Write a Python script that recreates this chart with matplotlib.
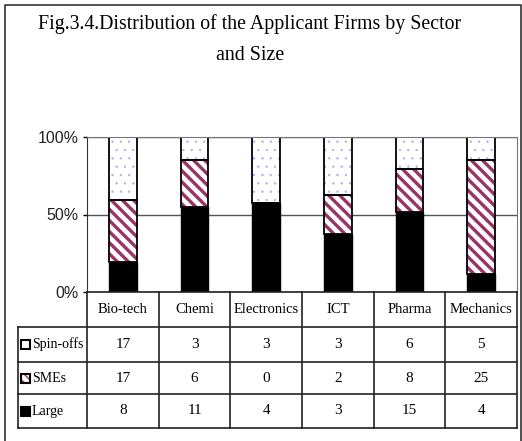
import matplotlib
matplotlib.use('Agg')
import matplotlib.pyplot as plt
import numpy as np

# data
sectors = ['Bio-tech', 'Chemi', 'Electronics', 'ICT', 'Pharma', 'Mechanics']
spin_offs = [17, 3, 3, 3, 6, 5]
smes = [17, 6, 0, 2, 8, 25]
large = [8, 11, 4, 3, 15, 4]
row_names = ['Spin-offs', 'SMEs', 'Large']
title = 'Fig.3.4.Distribution of the Applicant Firms by Sector\nand Size'

W, H = 522, 441
serif = ['Liberation Serif', 'DejaVu Serif']
sans = ['Liberation Sans', 'DejaVu Sans']
maroon = '#993366'
dotc = '#aaaaf2'

fig = plt.figure(figsize=(W / 100, H / 100), dpi=100)

# plot area in pixels
px_l, px_r, px_t, px_b = 87, 517, 137, 292
ax = fig.add_axes([px_l / W, (H - px_b) / H, (px_r - px_l) / W, (px_b - px_t) / H])

tot = np.array(spin_offs) + np.array(smes) + np.array(large)
p_large = np.array(large) / tot * 100
p_smes = np.array(smes) / tot * 100
p_spin = np.array(spin_offs) / tot * 100
x = np.arange(len(sectors))
bw = 0.39

ax.bar(x, p_large, bw, color='black', edgecolor='black', linewidth=1)
b2 = ax.bar(x, p_smes, bw, bottom=p_large, color='white', edgecolor=maroon,
            hatch='\\\\\\', linewidth=0)
for p in b2:
    if hasattr(p, 'set_hatch_linewidth'):
        p.set_hatch_linewidth(2.4)
b3 = ax.bar(x, p_spin, bw, bottom=p_large + p_smes, color='white', edgecolor=dotc,
            hatch='..', linewidth=0)
for p in b3:
    if hasattr(p, 'set_hatch_linewidth'):
        p.set_hatch_linewidth(0.4)
# outlines
ax.bar(x, p_smes, bw, bottom=p_large, fill=False, edgecolor='black', linewidth=1.3)
ax.bar(x, p_spin, bw, bottom=p_large + p_smes, fill=False, edgecolor='black', linewidth=1.3)

ax.set_xlim(-0.5, len(sectors) - 0.5)
ax.set_ylim(0, 100)
ax.set_yticks([0, 50, 100])
ax.set_yticklabels(['0%', '50%', '100%'], family=sans, fontsize=11.5, color='#222222')
ax.set_xticks([])
ax.yaxis.grid(True, color='#555555', linewidth=1)
ax.set_axisbelow(True)
ax.tick_params(axis='y', direction='out', length=3, width=1, pad=3)
ax.spines['top'].set_color('#777777')
ax.spines['right'].set_color('#777777')
ax.spines['left'].set_color('#333333')
ax.spines['bottom'].set_visible(False)

# overlay in pixel coordinates for frame, title and table
ov = fig.add_axes([0, 0, 1, 1], facecolor='none')
ov.set_xlim(0, W)
ov.set_ylim(H, 0)
ov.axis('off')

ov.plot([5, 5, 520.5, 520.5], [H, 5, 5, H], color='#333333', lw=1.2)
for k, line in enumerate(title.split('\n')):
    ov.text(250, 24 + 31 * k, line, ha='center', va='center', family=serif,
            fontsize=14.3)

# table geometry
col_w = (px_r - px_l) / len(sectors)
col_x = [px_l + i * col_w for i in range(len(sectors) + 1)]
lab_l = 18
row_y = [292, 327, 362, 394, 428]
lc = '#222222'
# horizontal lines
ov.plot([px_l, px_r], [row_y[0], row_y[0]], color=lc, lw=1.2)
for yy in row_y[1:]:
    ov.plot([lab_l, px_r], [yy, yy], color=lc, lw=1.2)
# vertical lines
ov.plot([lab_l, lab_l], [row_y[1], row_y[-1]], color=lc, lw=1.2)
for xx in col_x:
    ov.plot([xx, xx], [row_y[0], row_y[-1]], color=lc, lw=1.2)

for i, s in enumerate(sectors):
    cx = (col_x[i] + col_x[i + 1]) / 2
    ov.text(cx, (row_y[0] + row_y[1]) / 2, s, ha='center', va='center',
            family=serif, fontsize=10.5)
    for j, vals in enumerate([spin_offs, smes, large]):
        ov.text(cx, (row_y[j + 1] + row_y[j + 2]) / 2, str(vals[i]), ha='center',
                va='center', family=serif, fontsize=11)

# row labels with small swatches
for j, name in enumerate(row_names):
    cy = (row_y[j + 1] + row_y[j + 2]) / 2
    if j == 1:
        ov.add_patch(plt.Rectangle((21, cy - 4.5), 9, 9, facecolor='white',
                                   edgecolor=maroon, hatch='\\\\\\\\', lw=0))
        ov.add_patch(plt.Rectangle((21, cy - 4.5), 9, 9, fill=False,
                                   edgecolor='black', lw=1.5))
    else:
        fc = 'white' if j == 0 else 'black'
        ov.add_patch(plt.Rectangle((21, cy - 4.5), 9, 9, facecolor=fc,
                                   edgecolor='black', lw=1.5))
    ov.text(32, cy, name, ha='left', va='center', family=serif, fontsize=10)

fig.savefig('out.png', dpi=100)
plt.close('all')
